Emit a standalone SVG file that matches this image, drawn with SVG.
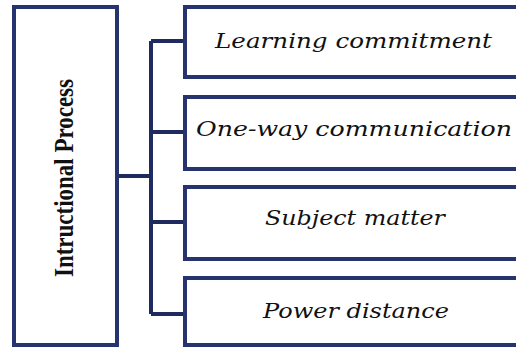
<svg xmlns="http://www.w3.org/2000/svg" width="516" height="349" viewBox="0 0 516 349">
  <style>
    .box { fill: #ffffff; stroke: #27336f; stroke-width: 4; }
    .edge { fill: none; stroke: #1f2a5e; stroke-width: 4; stroke-linejoin: miter; }
    .item { font-family: "DejaVu Serif", "Liberation Serif", serif; font-style: italic; font-size: 21px; fill: #111111; }
    .root { font-family: "Liberation Serif", serif; font-weight: bold; font-size: 28px; fill: #111111; }
  </style>
  <rect width="516" height="349" fill="#ffffff"/>

  <g id="connectors">
    <path class="edge" d="M119 176 H151 M151 41 V314 M151 41 H185 M151 132 H185 M151 222 H185 M151 314 H185"/>
  </g>

  <g id="instructional-process">
    <rect class="box" x="14" y="7" width="103" height="338"/>
    <text class="root" transform="translate(73 178) rotate(-90)" text-anchor="middle" textLength="198" lengthAdjust="spacingAndGlyphs">Intructional Process</text>
  </g>

  <g id="learning-commitment">
    <rect class="box" x="185" y="7" width="345" height="70"/>
    <text class="item" x="215" y="48" textLength="277" lengthAdjust="spacingAndGlyphs">Learning commitment</text>
  </g>

  <g id="one-way-communication">
    <rect class="box" x="185" y="97" width="345" height="72"/>
    <text class="item" x="196" y="136" textLength="316" lengthAdjust="spacingAndGlyphs">One-way communication</text>
  </g>

  <g id="subject-matter">
    <rect class="box" x="185" y="187" width="345" height="72"/>
    <text class="item" x="265" y="225" textLength="180" lengthAdjust="spacingAndGlyphs">Subject matter</text>
  </g>

  <g id="power-distance">
    <rect class="box" x="185" y="278" width="345" height="67"/>
    <text class="item" x="263" y="318" textLength="186" lengthAdjust="spacingAndGlyphs">Power distance</text>
  </g>
</svg>
